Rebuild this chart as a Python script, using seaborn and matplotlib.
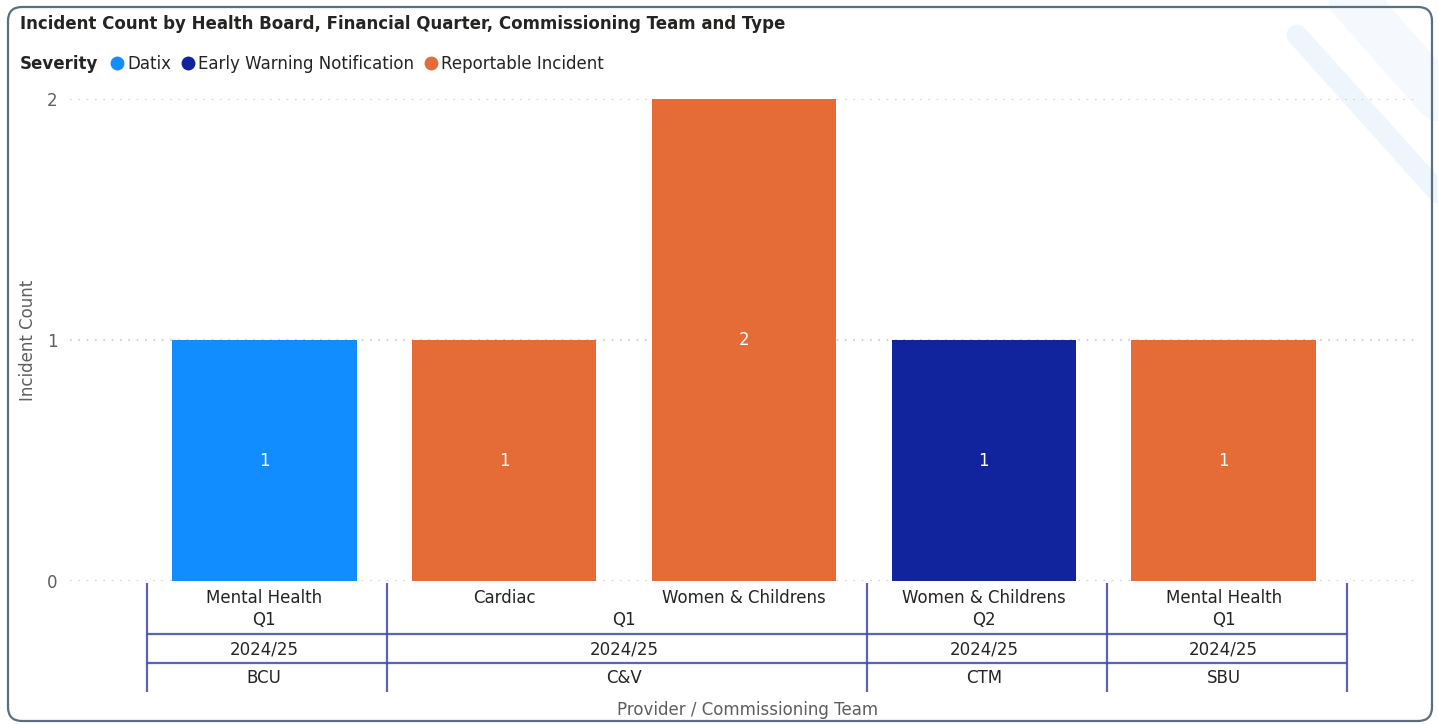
import pandas as pd
import matplotlib.pyplot as plt
import seaborn as sns
from matplotlib.lines import Line2D
from matplotlib.patches import FancyBboxPatch

# Données
providers = ["BCU", "C&V", "C&V", "CTM", "SBU"]
years = ["2024/25", "2024/25", "2024/25", "2024/25", "2024/25"]
quarters = ["Q1", "Q1", "Q1", "Q2", "Q1"]
teams = ["Mental Health", "Cardiac", "Women & Childrens", "Women & Childrens", "Mental Health"]
severity = ["Datix", "Reportable Incident", "Reportable Incident",
            "Early Warning Notification", "Reportable Incident"]
counts = [1, 1, 2, 1, 1]

severity_levels = ["Datix", "Early Warning Notification", "Reportable Incident"]
palette = {"Datix": "#118DFF", "Early Warning Notification": "#12239E",
           "Reportable Incident": "#E66C37"}

df = pd.DataFrame({"provider": providers, "year": years, "quarter": quarters,
                   "team": teams, "severity": severity, "count": counts})
df["pos"] = [f"bar{i}" for i in range(len(df))]

TXT = "#252423"
SUB = "#605E5C"
HIER = "#3f48b4"
FS = 12

W, H = 1438, 724
fig = plt.figure(figsize=(W / 100, H / 100), dpi=100)
plt.rcParams["font.family"] = ["DejaVu Sans"]

# zone du graphique (pixels)
x0, x1, y_zero, y_top = 70, 1418, 581, 99
ax = fig.add_axes([x0 / W, (H - y_zero) / H, (x1 - x0) / W, (y_zero - y_top) / H])
ax.patch.set_alpha(0)

sns.barplot(data=df, x="pos", y="count", hue="severity", hue_order=severity_levels,
            palette=palette, dodge=False, width=0.77, saturation=1, ax=ax, legend=False)

for c in ax.containers:
    ax.bar_label(c, label_type="center", color="white", fontsize=FS, fmt="%d")

ax.set_ylim(0, 2)
ax.set_xlim(-0.81, len(df) - 1 + 0.81)
ax.set_yticks([0, 1, 2])
ax.tick_params(axis="y", length=0, pad=9, labelsize=FS, labelcolor=SUB)
ax.set_xticks([])
ax.set_xlabel("")
ax.set_ylabel("")
ax.yaxis.grid(True, linestyle=(0, (1, 4)), color="#c8c8c8", linewidth=1.2)
ax.set_axisbelow(True)
for s in ax.spines.values():
    s.set_visible(False)


# axe x hiérarchique
def ay(py):
    return (y_zero - py) / (y_zero - y_top)


tr = ax.get_xaxis_transform()
n = len(df)


def runs(keys):
    out = []
    start = 0
    for i in range(1, n + 1):
        if i == n or keys[i] != keys[start]:
            out.append((start, i - 1))
            start = i
    return out


# libellés des équipes
for i, t in enumerate(teams):
    ax.text(i, ay(598), t, transform=tr, ha="center", va="center",
            fontsize=FS, color=TXT, clip_on=False)

q_keys = list(zip(providers, years, quarters))
y_keys = list(zip(providers, years))
p_keys = providers

for a, b in runs(q_keys):
    ax.text((a + b) / 2, ay(620), quarters[a], transform=tr, ha="center", va="center",
            fontsize=FS, color=TXT, clip_on=False)
for a, b in runs(y_keys):
    ax.text((a + b) / 2, ay(650), years[a], transform=tr, ha="center", va="center",
            fontsize=FS, color=TXT, clip_on=False)
for a, b in runs(p_keys):
    ax.text((a + b) / 2, ay(678), p_keys[a], transform=tr, ha="center", va="center",
            fontsize=FS, color=TXT, clip_on=False)

shift = 0.012
edges = sorted({a - 0.5 + shift for a, b in runs(q_keys)} | {n - 0.5 + shift})
for e in edges:
    ax.plot([e, e], [ay(583), ay(692)], transform=tr, color=HIER, lw=1.6,
            alpha=0.85, clip_on=False, solid_capstyle="butt")
for py in (634, 663):
    ax.plot([-0.5 + shift, n - 0.5 + shift], [ay(py), ay(py)], transform=tr, color=HIER,
            lw=1.6, alpha=0.85, clip_on=False, solid_capstyle="butt")

# titres
fig.text(20 / W, 1 - 24 / H,
         "Incident Count by Health Board, Financial Quarter, Commissioning Team and Type",
         fontsize=FS, fontweight="bold", color=TXT, ha="left", va="center")
fig.text(28 / W, 1 - 340 / H, "Incident Count", rotation=90, fontsize=FS,
         color=SUB, ha="center", va="center")
fig.text(748 / W, 1 - 710 / H, "Provider / Commissioning Team", fontsize=FS,
         color=SUB, ha="center", va="center")

# légende
fig.text(20 / W, 1 - 64 / H, "Severity", fontsize=FS, fontweight="bold",
         color=TXT, ha="left", va="center")
handles = [Line2D([], [], marker="o", linestyle="", markersize=10,
                  markerfacecolor=palette[s], markeredgewidth=0) for s in severity_levels]
fig.legend(handles, severity_levels, loc="center left", bbox_to_anchor=(110 / W, 1 - 64 / H),
           ncol=3, frameon=False, handlelength=0.9, handletextpad=0.15,
           columnspacing=0.55, borderpad=0, borderaxespad=0, fontsize=FS,
           labelcolor=TXT)

# décor : bandes en haut à droite + cadre arrondi
for (xa, ya, xb, yb, lw, col) in [(1297, 35, 1445, 200, 15, "#eff5fc"),
                                  (1335, -20, 1450, 110, 34, "#f5f9fe")]:
    fig.add_artist(Line2D([xa / W, xb / W], [1 - ya / H, 1 - yb / H], color=col,
                          lw=lw, solid_capstyle="round", zorder=-5))

fig.add_artist(FancyBboxPatch((8, 3), 1424, 714, boxstyle="round,pad=0,rounding_size=14",
                              transform=None, fill=False, edgecolor="#5b6f82", lw=1.6))

fig.savefig("out.png", dpi=100)
